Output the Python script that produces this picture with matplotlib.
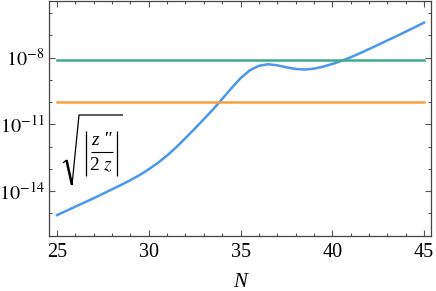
import numpy as np
import matplotlib
matplotlib.use('Agg')
import matplotlib.pyplot as plt
from matplotlib.lines import Line2D
from matplotlib.ticker import FixedLocator, NullFormatter, FuncFormatter

plt.rcParams['font.family'] = 'Liberation Serif'
plt.rcParams['mathtext.fontset'] = 'stix'

# values (log10 of the quantity)
N = np.arange(25, 45.5, 0.5)
log_ratio = [-15.08, -14.89, -14.70, -14.51, -14.32, -14.12, -13.92, -13.72,
             -13.51, -13.28, -13.02, -12.73, -12.40, -12.03, -11.62, -11.20,
             -10.77, -10.33, -9.86, -9.38, -8.93, -8.58, -8.37, -8.30, -8.35,
             -8.44, -8.51, -8.54, -8.50, -8.41, -8.29, -8.15, -7.99, -7.81,
             -7.62, -7.43, -7.23, -7.04, -6.84, -6.64, -6.43]
level_green = 7.4e-9
level_orange = 1.0e-10

ratio = 10.0 ** np.array(log_ratio)

W, H = 436, 291
fig = plt.figure(figsize=(W / 100, H / 100), dpi=100)
ax = fig.add_axes([0.1124, 0.189, 0.876, 0.809])

ax.plot(N, ratio, color='#4a98ec', lw=1.8)
ax.plot([25, 45], [level_green] * 2, color='#3daa8a', lw=1.8)
ax.plot([25, 45], [level_orange] * 2, color='#f7a23e', lw=1.8)

ax.set_yscale('log')
ax.set_xlim(24.56, 45.38)
ax.set_ylim(10 ** -16.02, 10 ** -5.44)

ax.set_xticks([25, 30, 35, 40, 45])
ax.xaxis.set_minor_locator(FixedLocator(np.arange(25, 46, 1)))
ax.yaxis.set_major_locator(FixedLocator([1e-14, 1e-11, 1e-8]))
ax.yaxis.set_minor_locator(FixedLocator([10.0 ** k for k in range(-16, -5)]))
ax.yaxis.set_minor_formatter(NullFormatter())
ax.yaxis.set_major_formatter(FuncFormatter(lambda v, p: r'$10^{%d}$' % round(np.log10(v))))

ax.tick_params(which='both', direction='in', top=True, right=True,
               colors='#555555', labelcolor='black', labelsize=14.5, width=0.8)
ax.tick_params(axis='x', pad=5)
ax.tick_params(axis='y', pad=3)
ax.tick_params(which='major', length=4)
ax.tick_params(which='minor', length=2.5)
for s in ax.spines.values():
    s.set_color('#444444')
    s.set_linewidth(0.9)

ax.set_xlabel('N', fontsize=15, fontstyle='italic', labelpad=8)

# label: sqrt(|z''/(2z)|), drawn in pixel coords of the figure
def fx(px):
    return px / W

def fy(py):
    return 1 - py / H

def seg(xs, ys, lw):
    fig.add_artist(Line2D([fx(x) for x in xs], [fy(y) for y in ys],
                          color='black', lw=lw, solid_capstyle='butt'))

seg([63, 66.5], [163, 160], 0.9)
seg([66.5, 72], [160, 185], 1.8)
seg([72, 79, 123], [185, 115, 115], 0.9)
seg([86, 86], [131, 176], 0.9)
seg([117, 117], [131, 176], 0.9)
seg([90.5, 112.5], [152, 152], 0.8)
fig.text(fx(101.5), fy(140), 'z "', fontsize=14, fontstyle='italic',
         ha='center', va='center')
fig.text(fx(101.5), fy(165), r'2 $\it{z}$', fontsize=14,
         ha='center', va='center')

fig.savefig('out.png', dpi=100)
